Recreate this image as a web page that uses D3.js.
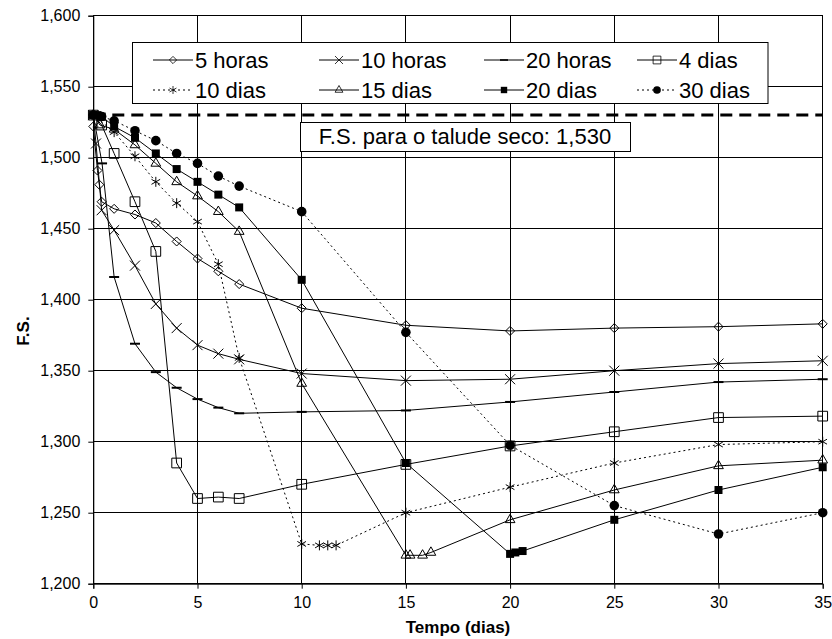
<!DOCTYPE html>
<html>
<head>
<meta charset="utf-8">
<script src="https://cdn.jsdelivr.net/npm/d3@7"></script>
<style>
  body { margin: 0; background: #fff; }
  svg { display: block; font-family: "Liberation Sans", Arial, sans-serif; }
</style>
</head>
<body>
<div id="chart"></div>
<script>
// tempo (dias) e F.S.
const t5h = [0, 0.2, 0.29, 0.4, 1, 2, 3, 4, 5, 6, 7, 10, 15, 20, 25, 30, 35];
const fs5h = [1.522, 1.491, 1.481, 1.469, 1.464, 1.460, 1.454, 1.441, 1.429, 1.420, 1.411, 1.394, 1.382, 1.378, 1.380, 1.381, 1.383];

const t10h = [0, 0.13, 0.4, 1, 2, 3, 4, 5, 6, 7, 10, 15, 20, 25, 30, 35];
const fs10h = [1.530, 1.510, 1.463, 1.449, 1.424, 1.397, 1.380, 1.368, 1.362, 1.358, 1.348, 1.343, 1.344, 1.350, 1.355, 1.357];

const t20h = [0, 0.42, 1, 2, 3, 4, 5, 6, 7, 10, 15, 20, 25, 30, 35];
const fs20h = [1.530, 1.496, 1.416, 1.369, 1.349, 1.338, 1.330, 1.324, 1.320, 1.321, 1.322, 1.328, 1.335, 1.342, 1.344];

const t4d = [0, 0.4, 1, 2, 3, 4, 5, 6, 7, 10, 15, 20, 25, 30, 35];
const fs4d = [1.530, 1.523, 1.503, 1.469, 1.434, 1.285, 1.260, 1.261, 1.260, 1.270, 1.284, 1.297, 1.307, 1.317, 1.318];

const t10d = [0, 1, 2, 3, 4, 5, 6, 7, 10, 10.85, 11.25, 11.65, 15, 20, 25, 30, 35];
const fs10d = [1.530, 1.518, 1.501, 1.483, 1.468, 1.455, 1.425, 1.359, 1.228, 1.227, 1.227, 1.227, 1.250, 1.268, 1.285, 1.298, 1.300];

const t15d = [0, 0.32, 1, 2, 3, 4, 5, 6, 7, 10, 15, 15.2, 15.8, 16.2, 20, 25, 30, 35];
const fs15d = [1.530, 1.523, 1.520, 1.509, 1.496, 1.483, 1.473, 1.462, 1.448, 1.341, 1.220, 1.220, 1.220, 1.222, 1.245, 1.266, 1.283, 1.287];

const t20d = [0, 0.2, 0.4, 1, 2, 3, 4, 5, 6, 7, 10, 15, 20, 20.25, 20.6, 25, 30, 35];
const fs20d = [1.530, 1.530, 1.529, 1.522, 1.514, 1.503, 1.492, 1.483, 1.474, 1.465, 1.414, 1.285, 1.221, 1.222, 1.223, 1.245, 1.266, 1.282];

const t30d = [0, 0.4, 1, 2, 3, 4, 5, 6, 7, 10, 15, 20, 25, 30, 35];
const fs30d = [1.530, 1.529, 1.526, 1.519, 1.512, 1.503, 1.496, 1.487, 1.480, 1.462, 1.377, 1.2975, 1.255, 1.235, 1.250];

const names = ['5 horas', '10 horas', '20 horas', '4 dias', '10 dias', '15 dias', '20 dias', '30 dias'];
const xTicks = [0, 5, 10, 15, 20, 25, 30, 35];
const yTicks = [1.2, 1.25, 1.3, 1.35, 1.4, 1.45, 1.5, 1.55, 1.6];
const fsSeco = 1.530;

const width = 832, height = 639;
const svg = d3.select('#chart').append('svg')
  .attr('width', width)
  .attr('height', height);

const x = d3.scaleLinear().domain([0, 35]).range([93.3, 822.7]);
const y = d3.scaleLinear().domain([1.2, 1.6]).range([583.7, 15.7]);

const ptBR = d3.formatLocale({ decimal: ',', thousands: '.', grouping: [3], currency: ['', ''] });
const fmt = ptBR.format('.3f');

// marcador "traço" do Excel
const symbolDash = {
  draw(ctx, size) {
    const w = Math.sqrt(size) / 2;
    ctx.moveTo(-w, 0);
    ctx.lineTo(w, 0);
  }
};

const styles = [
  { sym: d3.symbolDiamond2, size: 52, fill: false, dash: null },
  { sym: d3.symbolTimes, size: 67, fill: false, dash: null },
  { sym: symbolDash, size: 100, fill: false, dash: null, sw: 2 },
  { sym: d3.symbolSquare2, size: 120, fill: false, dash: null },
  { sym: d3.symbolAsterisk, size: 70, fill: false, dash: '2,3' },
  { sym: d3.symbolTriangle2, size: 68, fill: false, dash: null },
  { sym: d3.symbolSquare, size: 64, fill: true, dash: null },
  { sym: d3.symbolCircle, size: 72, fill: true, dash: '2,3' }
];

const tList = [t5h, t10h, t20h, t4d, t10d, t15d, t20d, t30d];
const fsList = [fs5h, fs10h, fs20h, fs4d, fs10d, fs15d, fs20d, fs30d];
const series = names.map((name, i) => ({
  name,
  style: styles[i],
  points: tList[i].map((t, j) => ({ t, v: fsList[i][j] }))
}));

// grade
const grid = svg.append('g').attr('shape-rendering', 'crispEdges');
grid.selectAll('.hg').data(yTicks).join('line')
  .attr('x1', x(0)).attr('x2', x(35))
  .attr('y1', d => y(d)).attr('y2', d => y(d))
  .attr('stroke', '#000').attr('stroke-width', 1);
grid.selectAll('.vg').data(xTicks).join('line')
  .attr('y1', y(1.2)).attr('y2', y(1.6))
  .attr('x1', d => x(d)).attr('x2', d => x(d))
  .attr('stroke', '#000').attr('stroke-width', 1);

// eixos
const xAxis = svg.append('g')
  .attr('transform', `translate(0,${y(1.2)})`)
  .call(d3.axisBottom(x).tickValues(xTicks).tickSize(5).tickPadding(8).tickFormat(d3.format('d')));
const yAxis = svg.append('g')
  .attr('transform', `translate(${x(0)},0)`)
  .call(d3.axisLeft(y).tickValues(yTicks).tickSize(5).tickPadding(8).tickFormat(fmt));
[xAxis, yAxis].forEach(a => {
  a.select('.domain').attr('stroke', '#000');
  a.selectAll('.tick line').attr('stroke', '#000');
  a.selectAll('text').attr('font-size', 16).attr('fill', '#000')
    .attr('font-family', '"Liberation Sans", Arial, sans-serif');
});

// linha tracejada do talude seco
svg.append('line')
  .attr('x1', x(0)).attr('x2', x(35))
  .attr('y1', y(fsSeco)).attr('y2', y(fsSeco))
  .attr('stroke', '#000').attr('stroke-width', 3)
  .attr('stroke-dasharray', '12,7');

// séries
const line = d3.line().x(d => x(d.t)).y(d => y(d.v));
const sg = svg.append('g').selectAll('g').data(series).join('g');
sg.append('path')
  .attr('d', d => line(d.points))
  .attr('fill', 'none')
  .attr('stroke', '#000')
  .attr('stroke-width', 1)
  .attr('stroke-dasharray', d => d.style.dash);
sg.each(function (s) {
  const sym = d3.symbol().type(s.style.sym).size(s.style.size);
  d3.select(this).selectAll('.m').data(s.points).join('path')
    .attr('transform', d => `translate(${x(d.t)},${y(d.v)})`)
    .attr('d', sym)
    .attr('fill', s.style.fill ? '#000' : 'none')
    .attr('stroke', s.style.fill ? 'none' : '#000')
    .attr('stroke-width', s.style.sw || 1);
});

// legenda
const legend = svg.append('g');
legend.append('rect')
  .attr('x', 132.5).attr('y', 42.5).attr('width', 635.5).attr('height', 61)
  .attr('fill', '#fff').attr('stroke', '#000').attr('stroke-width', 1);
const colX = [153, 319, 484, 637];
const rowY = [60, 90];
series.forEach((s, i) => {
  const cx = colX[i % 4], cy = rowY[Math.floor(i / 4)];
  const g = legend.append('g').attr('transform', `translate(${cx},${cy})`);
  g.append('line').attr('x1', 0).attr('x2', 40).attr('y1', 0).attr('y2', 0)
    .attr('stroke', '#000').attr('stroke-width', 1)
    .attr('stroke-dasharray', s.style.dash);
  g.append('path')
    .attr('transform', 'translate(20,0) scale(0.8)')
    .attr('d', d3.symbol().type(s.style.sym).size(s.style.size)())
    .attr('fill', s.style.fill ? '#000' : 'none')
    .attr('stroke', s.style.fill ? 'none' : '#000')
    .attr('stroke-width', s.style.sw || 1);
  g.append('text').attr('x', 42).attr('y', 8)
    .attr('font-size', 22).text(s.name);
});

// caixa do F.S. seco
svg.append('rect')
  .attr('x', 300.5).attr('y', 122.5).attr('width', 330).attr('height', 29)
  .attr('fill', '#fff').attr('stroke', '#000').attr('stroke-width', 1);
svg.append('text')
  .attr('x', 465).attr('y', 144)
  .attr('text-anchor', 'middle').attr('font-size', 22)
  .text('F.S. para o talude seco: ' + fmt(fsSeco));

// títulos dos eixos
svg.append('text')
  .attr('x', x(17.5)).attr('y', 633)
  .attr('text-anchor', 'middle').attr('font-size', 17).attr('font-weight', 'bold')
  .text('Tempo (dias)');
svg.append('text')
  .attr('transform', 'translate(29,331) rotate(-90)')
  .attr('text-anchor', 'middle').attr('font-size', 17).attr('font-weight', 'bold')
  .text('F.S.');
</script>
</body>
</html>
